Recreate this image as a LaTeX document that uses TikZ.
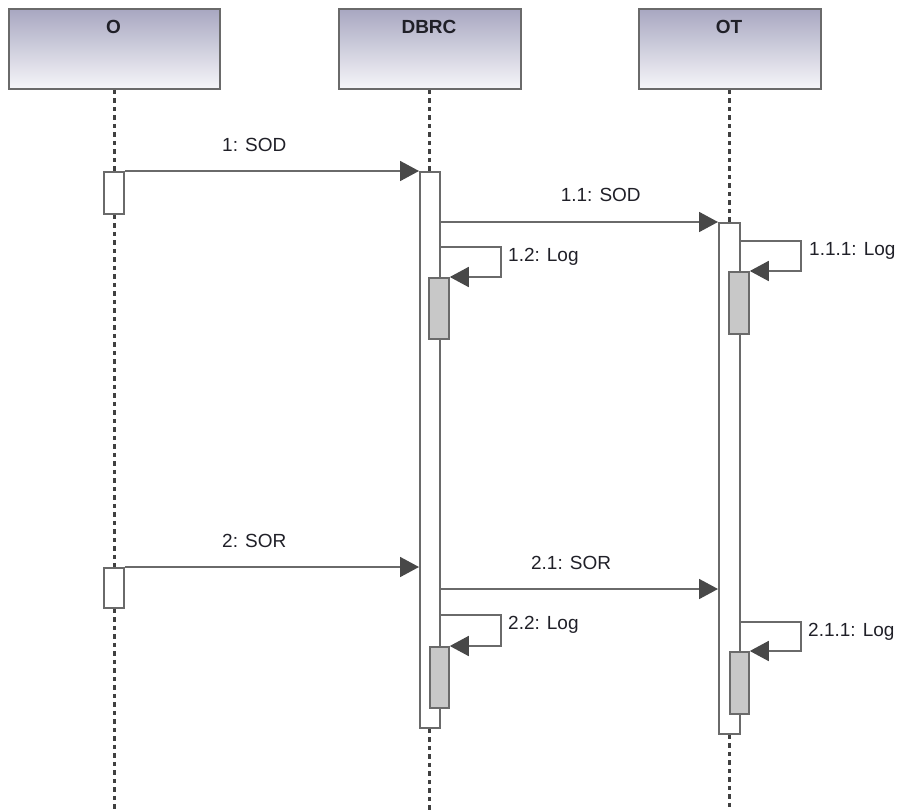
\documentclass[tikz,border=0pt]{standalone}
\usepackage{fontspec}
\setmainfont{Liberation Sans}
\usetikzlibrary{arrows.meta,calc}
\definecolor{linegray}{HTML}{6A6A6A}
\definecolor{tipgray}{HTML}{484848}
\definecolor{dotgray}{HTML}{404040}
\definecolor{nestfill}{HTML}{C8C8C8}
\definecolor{headtop}{HTML}{A8A7C1}
\definecolor{headbot}{HTML}{F6F6F9}
\definecolor{txt}{HTML}{202028}
\begin{document}
\begin{tikzpicture}[x=1pt,y=-1pt,
  head/.style={draw=linegray,line width=1.8pt,top color=headtop,bottom color=headbot,
    minimum height=80pt,anchor=north west,inner sep=0pt},
  headtxt/.style={font=\fontsize{19}{22}\selectfont\bfseries,text=txt,inner sep=0pt},
  life/.style={draw=dotgray,line width=3pt,dash pattern=on 4.5pt off 4pt},
  act/.style={draw=linegray,line width=1.8pt,fill=white,minimum width=20pt,anchor=north west,inner sep=0pt},
  nest/.style={act,fill=nestfill},
  msg/.style={draw=linegray,line width=1.8pt,-{Triangle[length=19pt,width=20pt,fill=tipgray,color=tipgray]}},
  lbl/.style={font=\fontsize{19}{22}\selectfont,text=txt,inner sep=0pt}]
\useasboundingbox (0,0) rectangle (907,811);

% headers
\node[head,minimum width=211pt] (O) at (8,8) {};
\node[head,minimum width=182pt] (D) at (338,8) {};
\node[head,minimum width=182pt] (T) at (638,8) {};
\node[headtxt] (Ol) at (113.5,26.5) {O};
\node[headtxt] (Dl) at (429,26.5) {DBRC};
\node[headtxt] (Tl) at (729,26.5) {OT};

% lifeline ends
\coordinate (Oend) at (113,811);
\coordinate (Dend) at (429,811);
\coordinate (Tend) at (729,811);

% activations (named, drawn first as anchors)
\path node[act,draw=none,fill=none,minimum height=42pt] (oa1) at (103,171) {}
      node[act,draw=none,fill=none,minimum height=40pt] (oa2) at (103,567) {}
      node[act,draw=none,fill=none,minimum height=556pt] (da) at (419,171) {}
      node[act,draw=none,fill=none,minimum height=511pt,minimum width=21pt] (ta) at (718,222) {};

% lifelines
\draw[life] (O.south) -- (O.south |- oa1.north);
\draw[life] (O.south |- oa1.south) -- (O.south |- oa2.north);
\draw[life] (O.south |- oa2.south) -- (O.south |- Oend);
\draw[life] (D.south) -- (D.south |- da.north);
\draw[life] (D.south |- da.south) -- (D.south |- Dend);
\draw[life] (T.south) -- (T.south |- ta.north);
\draw[life] (T.south |- ta.south) -- (T.south |- Tend);

% activation bars
\node[act,minimum height=42pt] (oa1b) at (103,171) {};
\node[act,minimum height=40pt] (oa2b) at (103,567) {};
\node[act,minimum height=556pt] (dab) at (419,171) {};
\node[act,minimum height=511pt,minimum width=21pt] (tab) at (718,222) {};
\node[nest,minimum height=61pt] (dn1) at (428,277) {};
\node[nest,minimum height=62pt] (tn1) at (728,271) {};
\node[nest,minimum height=61pt,minimum width=19pt] (dn2) at (429,646) {};
\node[nest,minimum height=62pt,minimum width=19pt] (tn2) at (729,651) {};

% messages
\draw[msg] (oa1.north east) -- node[lbl,pos=0.44,yshift=26pt] (m1) {1: SOD} (da.north west);
\draw[msg] (da.east |- ta.north west) -- node[lbl,pos=0.577,yshift=27pt] (m11) {1.1: SOD} (ta.north west);
\draw[msg] (oa2.north east) -- node[lbl,pos=0.44,yshift=26pt] (m2) {2: SOR} (da.west |- oa2.north east);
\coordinate (y21) at (0,589);
\draw[msg] (da.east |- y21) -- node[lbl,pos=0.47,yshift=26pt] (m21) {2.1: SOR} (ta.west |- y21);

% self messages
\draw[msg] ($(da.east |- dn1.north)+(0,-30)$) -- ++(60,0) -- ++(0,30) -- (dn1.north east);
\node[lbl,anchor=west] (l12) at (508,257) {1.2: Log};
\draw[msg] ($(ta.east |- tn1.north)+(0,-30)$) -- ++(60,0) -- ++(0,30) -- (tn1.north east);
\node[lbl,anchor=west] (l111) at (809,251) {1.1.1: Log};
\draw[msg] ($(da.east |- dn2.north)+(0,-31)$) -- ++(60,0) -- ++(0,31) -- (dn2.north east);
\node[lbl,anchor=west] (l22) at (508,625) {2.2: Log};
\draw[msg] ($(ta.east |- tn2.north)+(0,-29)$) -- ++(60,0) -- ++(0,29) -- (tn2.north east);
\node[lbl,anchor=west] (l211) at (808,632) {2.1.1: Log};
\end{tikzpicture}
\end{document}
